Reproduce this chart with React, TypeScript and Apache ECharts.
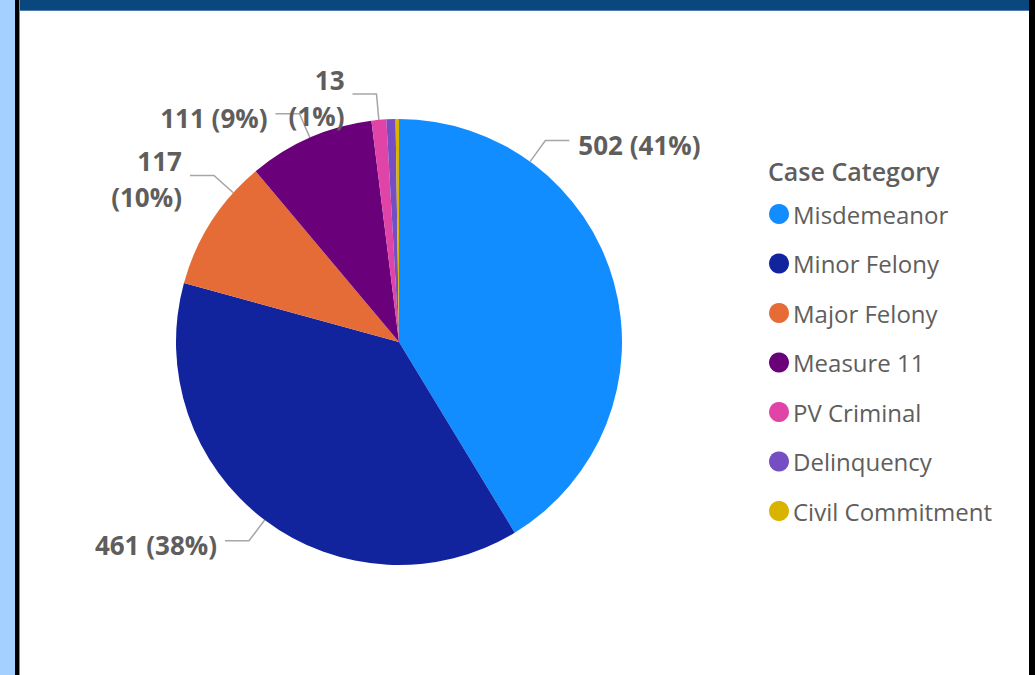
import React, { useEffect, useRef } from "react";
import * as echarts from "echarts";

const categories = [
  "Misdemeanor",
  "Minor Felony",
  "Major Felony",
  "Measure 11",
  "PV Criminal",
  "Delinquency",
  "Civil Commitment",
];
const values = [502, 461, 117, 111, 13, 8, 3];
const colors = ["#118DFF", "#12239E", "#E66C37", "#6B007B", "#E044A7", "#744EC2", "#D9B300"];
const showLabel = [true, true, true, true, true, false, false];
const wrapLabel = [false, false, true, false, true, false, false];
const legendTitle = "Case Category";

// layout (not data): pie geometry and label anchor angle overrides (deg clockwise from 12 o'clock)
const CX = 399;
const CY = 342;
const R = 223;
const anchorOverride: Record<number, number> = { 0: 36, 2: 312 };

const FONT = "'Open Sans', 'Noto Sans', sans-serif";
const TEXT = "#605E5C";

export default function App() {
  const ref = useRef<HTMLDivElement>(null);
  useEffect(() => {
    document.body.style.margin = "0";
    const chart = echarts.init(ref.current!, null, { renderer: "svg" });
    const total = values.reduce((a, b) => a + b, 0);
    const midAngles: number[] = [];
    let acc = 0;
    values.forEach((v) => {
      midAngles.push(((acc + v / 2) / total) * 360);
      acc += v;
    });
    chart.setOption({
      animation: false,
      backgroundColor: "#ffffff",
      title: {
        text: legendTitle,
        left: 763,
        top: 153,
        textStyle: { fontFamily: FONT, fontSize: 25, fontWeight: 600, color: TEXT },
      },
      legend: {
        orient: "vertical",
        left: 769,
        top: 201,
        padding: 0,
        icon: "circle",
        itemWidth: 20,
        itemHeight: 20,
        itemGap: 23.5,
        textStyle: { fontFamily: FONT, fontSize: 24, color: TEXT, lineHeight: 26, padding: [0, 0, 0, -1] },
        data: categories,
      },
      graphic: [
        { type: "rect", shape: { x: 0, y: 0, width: 15, height: 675 }, style: { fill: "#A3D0FF" } },
        { type: "rect", shape: { x: 15, y: 0, width: 4, height: 675 }, style: { fill: "#000000" } },
        { type: "rect", shape: { x: 19, y: 0, width: 1, height: 675 }, style: { fill: "#8a8a8a" } },
        { type: "rect", shape: { x: 1029, y: 0, width: 6, height: 675 }, style: { fill: "#000000" } },
        { type: "rect", shape: { x: 20, y: 0, width: 1009, height: 10 }, style: { fill: "#0B477F" } },
        { type: "rect", shape: { x: 20, y: 10, width: 1009, height: 1 }, style: { fill: "#4F7DB0" } },
      ],
      series: [
        {
          type: "pie",
          center: [CX, CY],
          radius: R,
          startAngle: 90,
          clockwise: true,
          avoidLabelOverlap: false,
          label: {
            show: true,
            position: "outside",
            fontFamily: FONT,
            fontSize: 26,
            fontWeight: "bold",
            color: TEXT,
            lineHeight: 36,
            formatter: (p: any) => {
              const pct = Math.round((p.value / total) * 100);
              return wrapLabel[p.dataIndex] ? `${p.value}\n(${pct}%)` : `${p.value} (${pct}%)`;
            },
          },
          labelLine: {
            show: true,
            length: 20,
            length2: 22,
            lineStyle: { color: "#A6A6A6", width: 1.5 },
          },
          labelLayout: (params: any) => {
            const i = params.dataIndex;
            const ang = ((anchorOverride[i] ?? midAngles[i]) * Math.PI) / 180;
            const sx = Math.sin(ang);
            const cy = -Math.cos(ang);
            const edge = [CX + R * sx, CY + R * cy];
            const knee = [CX + (R + 26) * sx, CY + (R + 26) * cy];
            const right = sx >= 0;
            const end = [knee[0] + (right ? 24 : -24), knee[1]];
            return {
              x: end[0] + (right ? 9 : -8),
              y: end[1] + 4,
              align: right ? "left" : "right",
              verticalAlign: "middle",
              labelLinePoints: [edge, knee, end],
            };
          },
          emphasis: { disabled: true },
          data: categories.map((name, i) => ({
            name,
            value: values[i],
            itemStyle: { color: colors[i] },
            label: { show: showLabel[i] },
            labelLine: { show: showLabel[i] },
          })),
        },
      ],
    });
    return () => chart.dispose();
  }, []);
  return <div ref={ref} style={{ width: 1035, height: 675 }} />;
}
